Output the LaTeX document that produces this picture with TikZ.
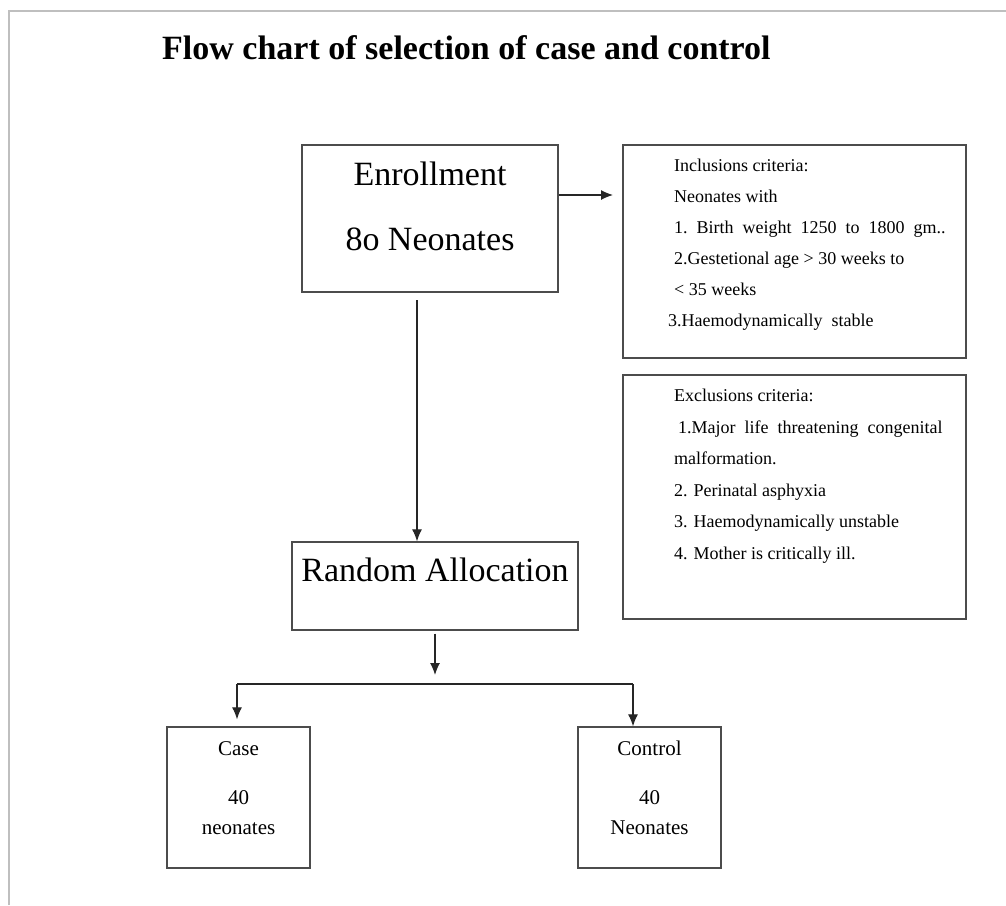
\documentclass[tikz,border=0pt]{standalone}
\usepackage{fontspec}
\setmainfont{Liberation Serif}
\usetikzlibrary{arrows.meta}

\tikzset{
  box/.style={draw=black!70,line width=1.3pt,rectangle,inner sep=0pt},
  arr/.style={-{Latex[length=12pt,width=10pt]},line width=1.2pt,draw=black!85},
  bigtxt/.style={font=\fontsize{34}{40}\selectfont,align=center,inner sep=0pt},
  midtxt/.style={font=\fontsize{21}{30}\selectfont,align=center,inner sep=0pt,anchor=north},
  smalltxt/.style={font=\fontsize{18}{31}\selectfont,align=left,inner sep=0pt,anchor=north west}
}

\begin{document}
\begin{tikzpicture}[x=1pt,y=-1pt]
\useasboundingbox (0,0) rectangle (1006,905);
\draw[black!25,line width=1.5pt] (9,905) -- (9,11) -- (1006,11);

\node[anchor=base west,inner sep=0pt,font=\fontsize{34}{40}\selectfont\bfseries] (title) at (162,59) {Flow chart of selection of case and control};

% boxes
\node[box,minimum width=256pt,minimum height=147pt] (enroll) at (430,218.5) {};
\node[box,minimum width=343pt,minimum height=213pt] (incl) at (794.5,251.5) {};
\node[box,minimum width=343pt,minimum height=244pt] (excl) at (794.5,497) {};
\node[box,minimum width=286pt,minimum height=88pt] (ra) at (435,586) {};
\node[box,minimum width=143pt,minimum height=141pt] (case) at (238.5,797.5) {};
\node[box,minimum width=143pt,minimum height=141pt] (ctrl) at (649.5,797.5) {};

% texts
\node[bigtxt,anchor=north] (enrolltxt) at (430,162) {Enrollment\\[25pt]8o Neonates};
\node[bigtxt] (ratxt) at (435,570) {Random Allocation};
\node[midtxt] (casetxt) at (238.5,741) {Case\\[19pt]40\\neonates};
\node[midtxt] (ctrltxt) at (649.5,741) {Control\\[19pt]40\\Neonates};
\node[smalltxt] (incltxt) at (674,159) {Inclusions criteria:\\
Neonates with\\
1.\ \ Birth\ \ weight\ \ 1250\ \ to\ \ 1800\ \ gm..\\
2.Gestetional age > 30 weeks to\\
< 35 weeks\\
\hspace*{-6pt}3.Haemodynamically\ \ stable};
\node[smalltxt,font=\fontsize{18}{31.5}\selectfont] (excltxt) at (674,389) {Exclusions criteria:\\
\hspace*{4pt}1.Major\ \ life\ \ threatening\ \ congenital\\
malformation.\\
2. Perinatal asphyxia\\
3. Haemodynamically unstable\\
4. Mother is critically ill.};

% connectors
\coordinate (inclin) at (613,195);
\coordinate (down) at (417,300);
\coordinate (fork) at (435,675);
\coordinate (barl) at (237,684);
\coordinate (barr) at (633,684);
\draw[arr] (enroll.east |- inclin) -- (inclin);
\draw[arr] (down) -- (down |- ra.north);
\draw[arr] ([yshift=-3pt]ra.south) -- (fork);
\draw[line width=1.2pt,black!85] (barl) -- (barr);
\draw[arr] (barl) -- ([yshift=7pt]barl |- case.north);
\draw[arr] (barr) -- (barr |- ctrl.north);
\end{tikzpicture}
\end{document}
